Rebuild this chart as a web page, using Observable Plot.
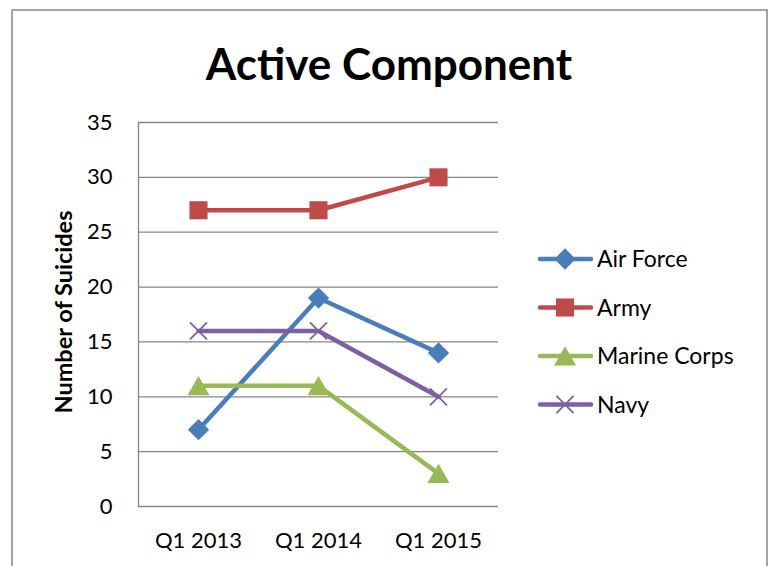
<!DOCTYPE html>
<html><head><meta charset="utf-8">
<script src="https://cdn.jsdelivr.net/npm/d3@7"></script>
<script src="https://cdn.jsdelivr.net/npm/@observablehq/plot@0.6"></script>
<style>
body{margin:0;background:#fff;}
#chart{position:relative;width:774px;height:566px;overflow:hidden;font-family:Lato, "Open Sans", sans-serif;background:#fff;}
#chart svg{position:absolute;left:0;top:0;}
</style></head><body><div id="chart"></div>
<script>
const quarters = ["Q1 2013", "Q1 2014", "Q1 2015"];
const seriesNames = ["Air Force", "Army", "Marine Corps", "Navy"];
const airForce = [7, 19, 14];
const army = [27, 27, 30];
const marineCorps = [11, 11, 3];
const navy = [16, 16, 10];
const colors = ["#4A7EBB", "#BE4B48", "#98B954", "#7D60A0"];
const symbols = ["diamond2", "square", "triangle", "times"];
const yTicks = [0, 5, 10, 15, 20, 25, 30, 35];
const title = "Active Component";
const yLabel = "Number of Suicides";

const seriesValues = [airForce, army, marineCorps, navy];
const data = seriesNames.flatMap((s, i) => quarters.map((q, j) => ({series: s, quarter: q, value: seriesValues[i][j]})));
const bySeries = name => data.filter(d => d.series === name);

const W = 774, H = 566;
const mL = 138, mR = 276, mT = 122, mB = 60;
const markerR = [9.6, 10.2, 8.2, 7.8];

const plot = Plot.plot({
  width: W, height: H,
  marginLeft: mL, marginRight: mR, marginTop: mT, marginBottom: mB,
  style: {fontFamily: "Lato, 'Open Sans', sans-serif", fontSize: "22px", color: "#000", background: "transparent", overflow: "visible"},
  x: {type: "point", domain: quarters, padding: 0.5, label: null},
  y: {domain: [0, 35], ticks: yTicks, label: null},
  marks: [
    Plot.gridY(yTicks, {stroke: "#868686", strokeOpacity: 1, strokeWidth: 1.3}),
    Plot.frame({anchor: "left", stroke: "#868686", strokeWidth: 1.3}),
    Plot.axisY(yTicks, {tickSize: 0, tickPadding: 26, fontSize: 22, fill: "#000"}),
    Plot.axisX({tickSize: 0, tickPadding: 26, fontSize: 22, fill: "#000"}),
    Plot.line(data, {x: "quarter", y: "value", z: "series", stroke: d => colors[seriesNames.indexOf(d.series)], strokeWidth: 4.5, strokeLinejoin: "round", strokeLinecap: "round"}),
    Plot.dot(bySeries(seriesNames[0]), {x: "quarter", y: "value", symbol: symbols[0], fill: colors[0], r: markerR[0]}),
    Plot.dot(bySeries(seriesNames[1]), {x: "quarter", y: "value", symbol: symbols[1], fill: colors[1], r: markerR[1]}),
    Plot.dot(bySeries(seriesNames[2]), {x: "quarter", y: "value", symbol: symbols[2], fill: colors[2], r: markerR[2], dy: 3}),
    Plot.dot(bySeries(seriesNames[3]), {x: "quarter", y: "value", symbol: symbols[3], stroke: colors[3], strokeWidth: 1.8, r: markerR[3]})
  ]
});
const chart = document.getElementById("chart");
chart.appendChild(plot);

// overlay: border, title, y label, legend
const svg = d3.select(chart).append("svg").attr("width", W).attr("height", H)
  .style("font-family", "Lato, 'Open Sans', sans-serif");
svg.append("rect").attr("x", 12).attr("y", 10).attr("width", 755).attr("height", 620)
  .attr("fill", "none").attr("stroke", "#868686").attr("stroke-width", 1.5);
svg.append("text").attr("x", 389).attr("y", 80).attr("text-anchor", "middle")
  .attr("font-size", 44).attr("font-weight", "bold").attr("fill", "#000").text(title);
svg.append("text").attr("transform", "translate(72,312) rotate(-90)").attr("text-anchor", "middle")
  .attr("font-size", 23.5).attr("font-weight", "bold").attr("fill", "#000").text(yLabel);

const symMap = {diamond2: d3.symbolDiamond2, square: d3.symbolSquare, triangle: d3.symbolTriangle, times: d3.symbolTimes};
const legend = svg.append("g");
seriesNames.forEach((name, i) => {
  const cy = 259 + i * 48.5;
  const g = legend.append("g").attr("transform", `translate(0,${cy})`);
  g.append("line").attr("x1", 540).attr("x2", 591).attr("y1", 0).attr("y2", 0)
    .attr("stroke", colors[i]).attr("stroke-width", 4.5).attr("stroke-linecap", "round");
  const path = d3.symbol(symMap[symbols[i]], Math.PI * markerR[i] * markerR[i])();
  const p = g.append("path").attr("d", path).attr("transform", `translate(565,${symbols[i] === "triangle" ? 3 : 0})`);
  if (symbols[i] === "times") p.attr("fill", "none").attr("stroke", colors[i]).attr("stroke-width", 1.8);
  else p.attr("fill", colors[i]);
  g.append("text").attr("x", 597).attr("y", 0).attr("dy", "0.35em").attr("font-size", 23).attr("fill", "#000").text(name);
});
</script></body></html>
